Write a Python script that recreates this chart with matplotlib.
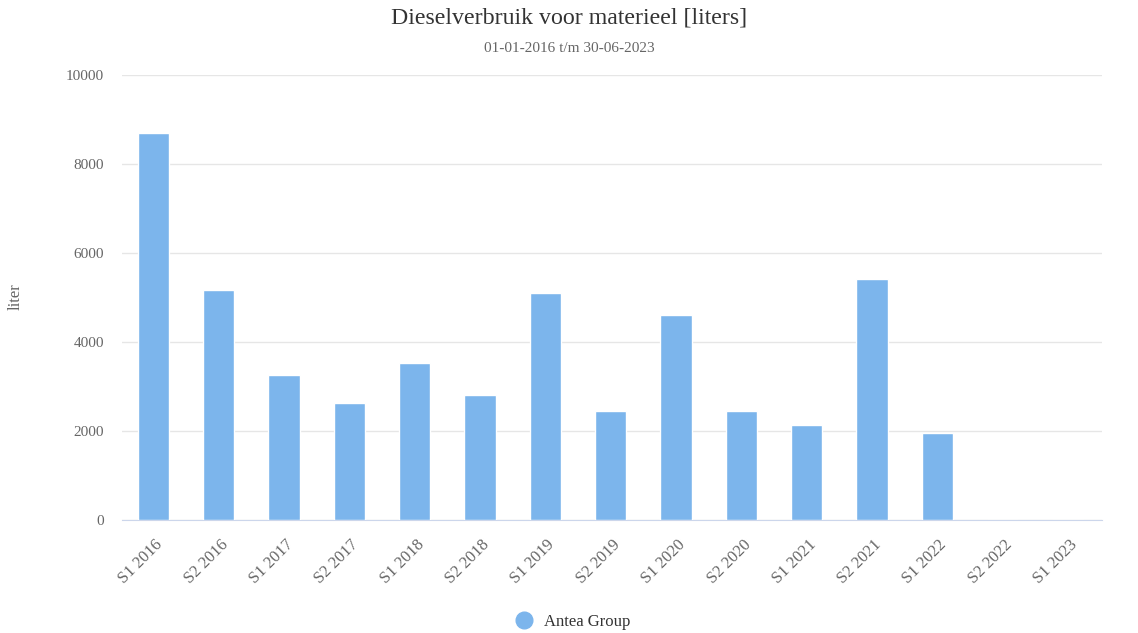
import matplotlib.pyplot as plt
from matplotlib.lines import Line2D
import numpy as np

categories = ["S1 2016", "S2 2016", "S1 2017", "S2 2017", "S1 2018", "S2 2018",
              "S1 2019", "S2 2019", "S1 2020", "S2 2020", "S1 2021", "S2 2021",
              "S1 2022", "S2 2022", "S1 2023"]
antea_group = [8700, 5170, 3250, 2640, 3520, 2820, 5110, 2460, 4600, 2460,
               2140, 5410, 1960, 0, 0]

plt.rcParams["font.family"] = ["Liberation Serif", "DejaVu Serif"]

fig = plt.figure(figsize=(11.38, 6.33), dpi=100)
ax = fig.add_axes([122 / 1138, 113 / 633, 980 / 1138, 445 / 633])

x = np.arange(len(categories))
ax.bar(x - 0.02, antea_group, width=0.48, color="#7cb5ec", edgecolor="white",
       linewidth=1, zorder=3)

ax.set_xlim(-0.5, len(categories) - 0.5)
ax.set_ylim(0, 10000)
ax.set_yticks(range(0, 10001, 2000))
ax.yaxis.grid(True, color="#e6e6e6", linewidth=1, zorder=0)
ax.tick_params(axis="y", length=0, labelsize=11, labelcolor="#666666", pad=13)
ax.set_xticks(x)
ax.set_xticklabels(categories, rotation=45, ha="right", rotation_mode="anchor",
                   fontsize=12, color="#666666")
ax.tick_params(axis="x", length=0, pad=12)

for side in ["top", "right", "left"]:
    ax.spines[side].set_visible(False)
ax.spines["bottom"].set_color("#ccd6eb")

fig.text(16 / 1138, 1 - 297 / 633, "liter", rotation=90, ha="center", va="center",
         fontsize=12, color="#666666")

fig.text(0.5, 1 - 18 / 633, "Dieselverbruik voor materieel [liters]", ha="center",
         va="center", fontsize=17.2, color="#333333")
fig.text(0.5, 1 - 48 / 633, "01-01-2016 t/m 30-06-2023", ha="center", va="center",
         fontsize=11, color="#666666")

handle = Line2D([], [], linestyle="none", marker="o", markersize=12,
                color="#7cb5ec")
fig.legend([handle], ["Antea Group"], loc="center",
           bbox_to_anchor=(0.5, 1 - 622 / 633), frameon=False, fontsize=12,
           handletextpad=0.2, labelcolor="#333333")

plt.savefig("out.png")
